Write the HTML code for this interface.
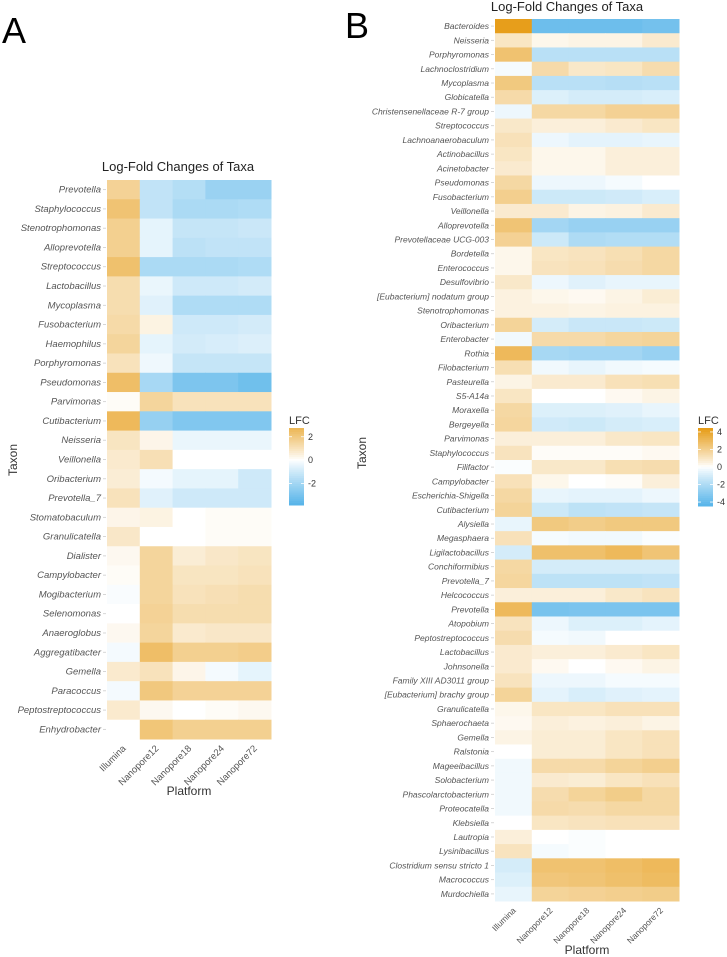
<!DOCTYPE html>
<html><head><meta charset="utf-8"><style>
body{margin:0;background:#fff;}
svg{display:block;font-family:"Liberation Sans","DejaVu Sans",sans-serif;}
</style></head><body>
<svg id="fig" width="727" height="957" viewBox="0 0 727 957"></svg>
<script>
const platforms = ["Illumina","Nanopore12","Nanopore18","Nanopore24","Nanopore72"];
const taxaA = ["Prevotella","Staphylococcus","Stenotrophomonas","Alloprevotella","Streptococcus","Lactobacillus","Mycoplasma","Fusobacterium","Haemophilus","Porphyromonas","Pseudomonas","Parvimonas","Cutibacterium","Neisseria","Veillonella","Oribacterium","Prevotella_7","Stomatobaculum","Granulicatella","Dialister","Campylobacter","Mogibacterium","Selenomonas","Anaeroglobus","Aggregatibacter","Gemella","Paracoccus","Peptostreptococcus","Enhydrobacter"];
const valuesA = [
[1.6,-1.3,-1.6,-2.2,-2.2],[2.2,-1.3,-1.8,-1.8,-1.7],[1.7,-0.5,-1.2,-1.2,-1.1],[1.7,-0.5,-1.4,-1.3,-1.3],
[2.3,-1.8,-1.8,-1.8,-1.7],[1.2,-0.4,-1.0,-1.0,-0.9],[1.2,-0.6,-1.7,-1.7,-1.7],[1.3,0.4,-1.0,-1.0,-0.9],
[1.5,-0.5,-0.9,-0.8,-0.7],[1.0,-0.3,-1.2,-1.2,-1.2],[2.4,-1.9,-2.9,-2.9,-3.2],[0.1,1.5,1.0,1.0,1.0],
[2.6,-2.3,-2.8,-2.8,-2.8],[0.9,0.3,-0.4,-0.4,-0.4],[0.7,1.1,0,0,0],[0.6,-0.2,-0.5,-0.5,-1.0],
[1.0,-0.6,-1.0,-1.0,-1.0],[0.3,0.4,0,0.1,0.1],[0.8,0,0,0.1,0.1],[0.2,1.5,0.6,0.8,0.9],
[0.1,1.5,0.9,0.9,1.0],[-0.1,1.5,1.0,1.1,1.2],[0,1.6,1.2,1.2,1.2],[0.2,1.5,0.7,0.8,0.8],
[-0.2,2.4,1.7,1.7,1.8],[0.7,1.0,0.3,-0.2,-0.5],[-0.2,2.0,1.6,1.6,1.6],[0.7,0.2,0,0.1,0.2],[0,2.1,1.7,1.7,1.7]];
const ticksA = [2,0,-2];
const taxaB = ["Bacteroides","Neisseria","Porphyromonas","Lachnoclostridium","Mycoplasma","Globicatella","Christensenellaceae R-7 group","Streptococcus","Lachnoanaerobaculum","Actinobacillus","Acinetobacter","Pseudomonas","Fusobacterium","Veillonella","Alloprevotella","Prevotellaceae UCG-003","Bordetella","Enterococcus","Desulfovibrio","[Eubacterium] nodatum group","Stenotrophomonas","Oribacterium","Enterobacter","Rothia","Filobacterium","Pasteurella","S5-A14a","Moraxella","Bergeyella","Parvimonas","Staphylococcus","Filifactor","Campylobacter","Escherichia-Shigella","Cutibacterium","Alysiella","Megasphaera","Ligilactobacillus","Conchiformibius","Prevotella_7","Helcococcus","Prevotella","Atopobium","Peptostreptococcus","Lactobacillus","Johnsonella","Family XIII AD3011 group","[Eubacterium] brachy group","Granulicatella","Sphaerochaeta","Gemella","Ralstonia","Mageeibacillus","Solobacterium","Phascolarctobacterium","Proteocatella","Klebsiella","Lautropia","Lysinibacillus","Clostridium sensu stricto 1","Macrococcus","Murdochiella"];
const valuesB = [
[4.3,-3.8,-3.8,-3.8,-3.6],[1.0,0.3,0.4,0.4,0.8],[2.6,-1.7,-1.7,-1.7,-1.7],[-0.2,1.5,0.9,1.0,1.4],
[2.3,-1.7,-1.7,-1.8,-1.7],[1.5,-0.8,-1.0,-1.0,-0.9],[-0.4,1.6,1.6,1.9,1.9],[0.9,0.6,0.6,0.8,1.0],
[1.2,-0.4,-0.6,-0.6,-0.5],[1.0,0.3,0.3,0.6,0.6],[0.8,0.3,0.3,0.6,0.6],[1.6,-0.4,-0.4,-0.2,0],
[2.0,-1.2,-1.2,-1.1,-0.9],[0.8,0.8,0.4,0.5,0.8],[2.5,-2.3,-2.6,-2.6,-2.6],[1.9,-1.2,-2.0,-1.9,-1.9],
[0.3,1.0,1.1,1.3,1.6],[0.3,1.1,1.2,1.4,1.6],[0.9,-0.4,-0.7,-0.5,-0.5],[0.5,0.3,0.2,0.4,0.7],
[0.5,0.5,0.4,0.5,0.5],[1.8,-1.0,-1.3,-1.3,-1.2],[-0.3,1.5,1.5,1.7,1.8],[3.0,-2.2,-2.3,-2.3,-2.6],
[1.3,-0.3,-0.5,-0.3,-0.2],[0.4,0.8,0.8,1.2,1.3],[1.0,0,0,0.2,0.4],[1.6,-0.8,-0.8,-0.7,-0.5],
[1.7,-1.1,-1.2,-1.0,-0.9],[0.6,0.6,0.6,0.9,1.0],[1.1,0.1,0.1,0.1,0.2],[-0.1,0.9,0.9,1.3,1.4],
[1.2,0.3,0,0.1,0.6],[1.6,-0.5,-0.6,-0.6,-0.4],[1.8,-1.2,-1.6,-1.5,-1.4],[-0.5,2.3,2.1,2.3,2.3],
[1.2,-0.2,-0.3,-0.3,-0.1],[-1.0,2.7,2.7,3.0,2.5],[1.6,-1.0,-1.0,-1.0,-1.0],[1.7,-1.6,-1.6,-1.6,-1.5],
[0.6,0.6,0.6,0.9,1.1],[3.0,-3.5,-3.4,-3.4,-3.4],[1.1,-0.4,-0.8,-0.8,-0.6],[1.4,-0.2,-0.3,0,0],
[0.8,0.6,0.6,0.8,1.0],[0.8,0.2,0,0.2,0.4],[1.1,-0.4,-0.4,-0.2,-0.2],[1.8,-0.6,-0.9,-0.7,-0.6],
[0.3,1.0,1.0,1.2,1.2],[0.2,0.6,0.5,0.6,0.4],[0.4,0.7,0.7,1.0,1.2],[0,0.7,0.7,1.0,1.2],
[-0.3,1.5,1.5,1.8,2.0],[-0.3,0.8,0.7,1.0,1.2],[-0.3,1.4,1.8,2.1,1.6],[-0.3,1.5,1.4,1.6,1.6],
[0,1.0,1.1,1.2,1.2],[0.6,0,-0.1,0,0],[1.1,-0.2,-0.1,0,0],[-1.0,2.6,2.6,2.8,3.0],
[-0.8,2.4,2.5,2.7,2.9],[-0.5,1.8,1.9,2.0,2.1]];
const ticksB = [4,2,0,-2,-4];

const NS="http://www.w3.org/2000/svg";
const svg=document.getElementById('fig');
function mk(tag,attrs,parent){const e=document.createElementNS(NS,tag);for(const k in attrs)e.setAttribute(k,attrs[k]);(parent||svg).appendChild(e);return e;}
function txt(s,attrs,parent){const e=mk('text',attrs,parent);e.textContent=s;return e;}
const LOW=[86,180,233],HIGH=[230,155,20];
function color(v,lim){let t=Math.max(-1,Math.min(1,v/lim));const c=t>=0?HIGH:LOW;t=Math.pow(Math.abs(t),0.92);
 const r=c.map(x=>Math.round(255+(x-255)*t));return `rgb(${r[0]},${r[1]},${r[2]})`;}

function panel(o){
 const g=mk('g',{});
 
 
 const n=o.taxa.length, cw=(o.x1-o.x0)/platforms.length, rh=(o.y1-o.y0)/n;
 const xs=i=>o.x0+i*cw, ys=j=>o.y0+j*rh;
 const lt=txt(o.letter,{x:o.lx,y:o.ly,'font-size':36,fill:'#000'},g);
 
 
 const t=txt('Log-Fold Changes of Taxa',{x:o.tx,y:o.ty,'font-size':13,fill:'#222','text-anchor':'middle'},g);
 
 
 o.taxa.forEach((name,j)=>{
  o.values[j].forEach((v,i)=>{
   const r=mk('rect',{x:xs(i),y:ys(j),width:cw+0.5,height:rh+0.5,fill:color(v,o.lim)},g);
   
   
  });
  mk('line',{x1:o.x0-4,x2:o.x0-1,y1:ys(j)+rh/2,y2:ys(j)+rh/2,stroke:'#ccc','stroke-width':0.8},g);
  const l=txt(name,{x:o.x0-6,y:ys(j)+rh/2+3,'font-size':o.fs,'font-style':'italic',fill:'#555','text-anchor':'end'},g);
  
  
 });
 platforms.forEach((p,i)=>{
  const cx=xs(i)+cw/2, by=o.y1+7;
  const l=txt(p,{x:cx+3,y:by+3,'font-size':o.fs,fill:'#555','text-anchor':'end',transform:`rotate(-45 ${cx+3} ${by+3})`},g);
  
  
 });
 const px=txt('Platform',{x:(o.x0+o.x1)/2,y:o.py,'font-size':12,fill:'#333','text-anchor':'middle'},g);
 
 
 const ty=txt('Taxon',{x:o.yx,y:o.yy,'font-size':12,fill:'#333','text-anchor':'middle',transform:`rotate(-90 ${o.yx} ${o.yy})`},g);
 
 
 const lg=mk('g',{},g);
 
 
 txt('LFC',{x:o.gx,y:o.gy-4,'font-size':11,fill:'#333'},lg);
 const steps=40;
 for(let k=0;k<steps;k++){
  const v=o.gmax-(o.gmax-o.gmin)*(k+0.5)/steps;
  mk('rect',{x:o.gx,y:o.gy+k*(o.gb-o.gy)/steps,width:15,height:(o.gb-o.gy)/steps+0.5,fill:color(v,o.lim)},lg);
 }
 const vy=v=>o.gy+(o.gmax-v)/(o.gmax-o.gmin)*(o.gb-o.gy);
 o.ticks.forEach(tk=>{
  mk('line',{x1:o.gx,x2:o.gx+3,y1:vy(tk),y2:vy(tk),stroke:'#fff','stroke-width':0.8},lg);
  mk('line',{x1:o.gx+12,x2:o.gx+15,y1:vy(tk),y2:vy(tk),stroke:'#fff','stroke-width':0.8},lg);
  txt(String(tk),{x:o.gx+19,y:vy(tk)+3,'font-size':9,fill:'#333'},lg);
 });
}
panel({name:'panel-a-heatmap',letter:'A',lx:2,ly:43,taxa:taxaA,values:valuesA,x0:107,x1:271,y0:180,y1:739,lim:3.85,fs:9.5,
 tx:178,ty:171,py:795,yx:17,yy:460,gx:289,gy:428,gb:505,gmax:2.75,gmin:-3.85,ticks:ticksA});
panel({name:'panel-b-heatmap',letter:'B',lx:345,ly:38,taxa:taxaB,values:valuesB,x0:495,x1:679,y0:19,y1:901,lim:4.45,fs:8.5,
 tx:567,ty:11,py:954,yx:366,yy:453,gx:698,gy:428,gb:506,gmax:4.45,gmin:-4.45,ticks:ticksB});
</script>
</body></html>
